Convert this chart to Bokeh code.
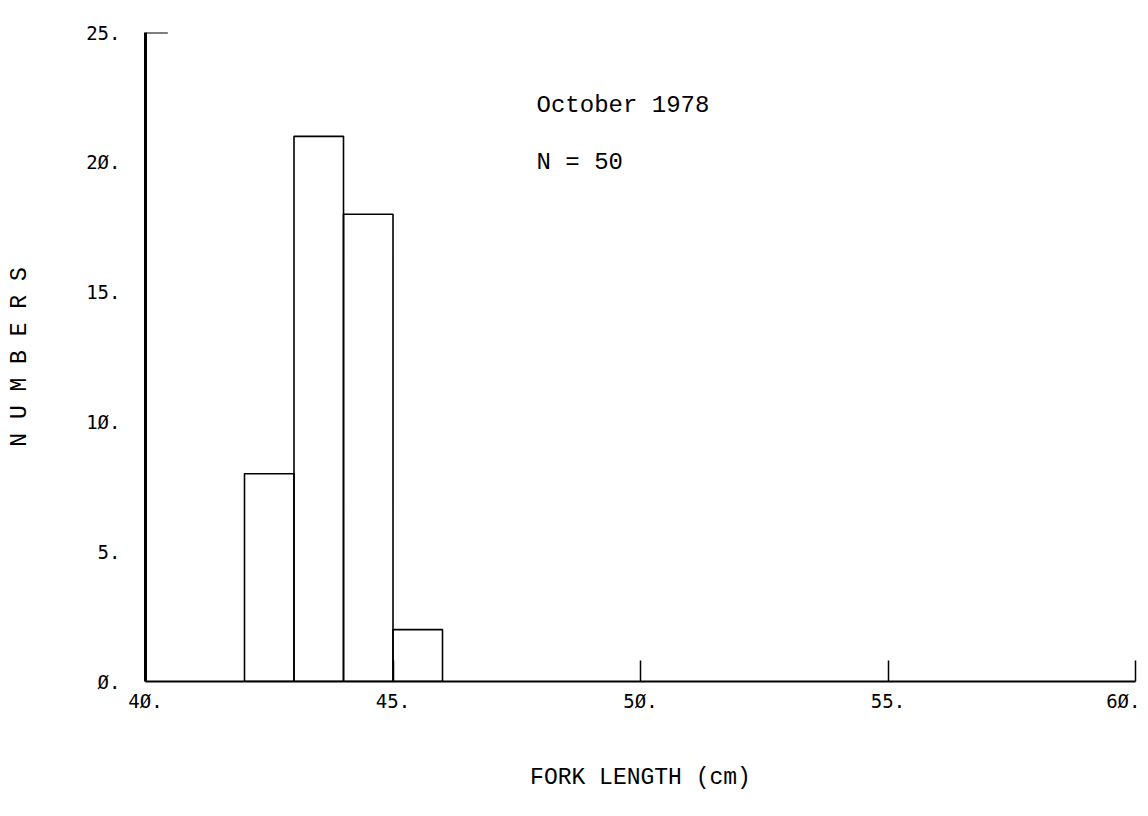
from bokeh.plotting import figure
from bokeh.models import Range1d, FixedTicker
from bokeh.models import Label
from bokeh.embed import file_html
from bokeh.resources import INLINE

# data
bin_left = [42, 43, 44, 45]
bin_right = [43, 44, 45, 46]
counts = [8, 21, 18, 2]

x_ticks = [40, 45, 50, 55, 60]
x_tick_labels = ["4Ø.", "45.", "5Ø.", "55.", "6Ø."]
y_ticks = [0, 5, 10, 15, 20, 25]
y_tick_labels = ["Ø.", "5.", "1Ø.", "15.", "2Ø.", "25."]

title_text = "October 1978"
n_text = "N = 50"
x_label = "FORK LENGTH (cm)"
y_label = "N U M B E R S"

p = figure(width=1140, height=808, output_backend="svg", toolbar_location=None,
           x_range=Range1d(40, 60), y_range=Range1d(0, 25),
           min_border_left=145, min_border_right=5, min_border_top=32, min_border_bottom=127)
p.outline_line_color = None
p.xgrid.grid_line_color = None
p.ygrid.grid_line_color = None
p.background_fill_color = "white"

p.quad(left=bin_left, right=bin_right, bottom=0, top=counts,
       fill_color=None, line_color="black", line_width=1.6)

# top tick on y axis
p.segment(x0=[x_ticks[0]], y0=[y_ticks[-1]], x1=[x_ticks[0] + 0.45], y1=[y_ticks[-1]],
          line_color="black", line_width=2)

mono_tick = "DejaVu Sans Mono"
courier = "Liberation Mono"

xa = p.xaxis[0]
xa.ticker = FixedTicker(ticks=x_ticks)
xa.major_label_overrides = {t: l for t, l in zip(x_ticks, x_tick_labels)}
xa.major_tick_in = 21
xa.major_tick_out = 0
xa.minor_tick_line_color = None
xa.axis_line_width = 2
xa.major_tick_line_width = 1.5
xa.major_label_standoff = 8
xa.major_label_text_font = mono_tick
xa.major_label_text_font_size = "19px"
xa.major_label_text_color = "black"
xa.axis_label = x_label
xa.axis_label_text_font = courier
xa.axis_label_text_font_size = "23px"
xa.axis_label_text_font_style = "normal"
xa.axis_label_text_color = "black"
xa.axis_label_standoff = 50

ya = p.yaxis[0]
ya.ticker = FixedTicker(ticks=y_ticks)
ya.major_label_overrides = {t: l for t, l in zip(y_ticks, y_tick_labels)}
ya.major_tick_in = 0
ya.major_tick_out = 0
ya.minor_tick_line_color = None
ya.axis_line_width = 3
ya.major_label_standoff = 25
ya.major_label_text_font = mono_tick
ya.major_label_text_font_size = "19px"
ya.major_label_text_color = "black"
ya.axis_label = y_label
ya.axis_label_text_font = courier
ya.axis_label_text_font_size = "23px"
ya.axis_label_text_font_style = "normal"
ya.axis_label_standoff = 50
ya.axis_label_text_color = "black"

p.add_layout(Label(x=47.9, y=22.2, text=title_text, text_font=courier,
                   text_font_size="24px", text_baseline="middle", text_color="black"))
p.add_layout(Label(x=47.9, y=20.0, text=n_text, text_font=courier,
                   text_font_size="24px", text_baseline="middle", text_color="black"))

open("out.html", "w").write(file_html(p, INLINE))
